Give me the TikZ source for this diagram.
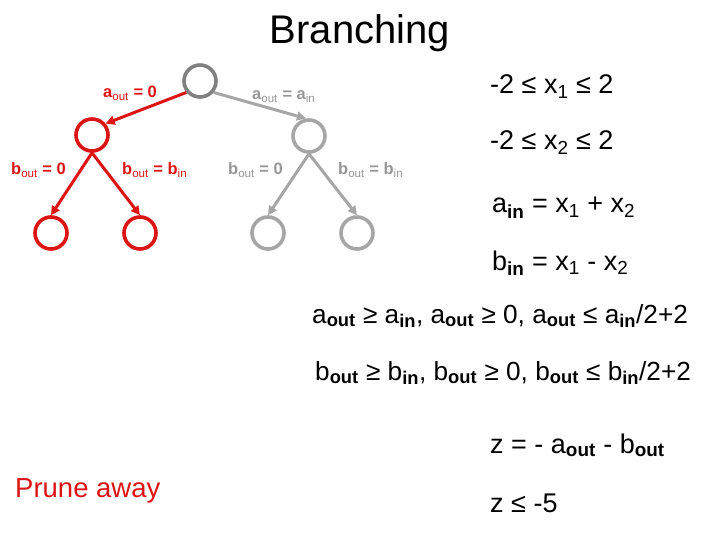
\documentclass[tikz,border=0pt]{standalone}
\usepackage{fontspec}
\setmainfont{Liberation Sans}
\usetikzlibrary{arrows.meta}
\definecolor{myred}{RGB}{220,20,20}
\definecolor{dgray}{RGB}{128,128,128}
\definecolor{lgray}{RGB}{166,166,166}
\definecolor{tgray}{RGB}{150,150,150}
\newcommand\sbb[1]{\textsubscript{\bfseries #1}}
\newcommand\sbr[1]{\textsubscript{\mdseries #1}}
\begin{document}
\begin{tikzpicture}[x=1pt,y=-1pt,
  nd/.style={circle,draw,line width=3.6pt,minimum size=32pt,inner sep=0pt},
  arr/.style={line width=3pt,-{Triangle[length=9pt,width=9pt]}},
  lbl/.style={anchor=base west,inner sep=0pt,font=\fontsize{16.5}{19}\selectfont\bfseries},
  eq/.style={anchor=base west,inner sep=0pt,font=\fontsize{27}{32}\selectfont},
  eqs/.style={anchor=base west,inner sep=0pt,font=\fontsize{26.2}{31}\selectfont}]
\useasboundingbox (0,0) rectangle (720,540);
\node[anchor=base,inner sep=0pt,font=\fontsize{40}{48}\selectfont] (title) at (360,44) {Branching};
% tree
\node[nd,draw=dgray] (root) at (200,81) {};
\node[nd,draw=myred] (lc) at (92,135) {};
\node[nd,draw=lgray] (rc) at (309,136) {};
\node[nd,draw=myred] (ll) at (51,233) {};
\node[nd,draw=myred] (lr) at (140,233) {};
\node[nd,draw=lgray] (rl) at (268,233) {};
\node[nd,draw=lgray] (rr) at (357,233) {};
\draw[arr,myred] (root.-140) -- (lc.40);
\draw[arr,lgray] (root.-40) -- (rc.100);
\draw[arr,myred] (lc.south) -- (ll.north);
\draw[arr,myred] (lc.south) -- (lr.north);
\draw[arr,lgray] (rc.south) -- (rl.north);
\draw[arr,lgray] (rc.south) -- (rr.north);
% tree labels
\node[lbl,myred] (l1) at (103,98) {a\sbr{out} = 0};
\node[lbl,tgray] (l2) at (252,100) {a\sbr{out} = a\sbr{in}};
\node[lbl,myred] (l3) at (11,175) {b\sbr{out} = 0};
\node[lbl,myred] (l4) at (122,175) {b\sbr{out} = b\sbr{in}};
\node[lbl,tgray] (l5) at (228,175) {b\sbr{out} = 0};
\node[lbl,tgray] (l6) at (338,175) {b\sbr{out} = b\sbr{in}};
% equations
\node[eq] (e1) at (490,94) {-2 ≤ x\textsubscript{1} ≤ 2};
\node[eq] (e2) at (490,150) {-2 ≤ x\textsubscript{2} ≤ 2};
\node[eq] (e3) at (492,213) {a\sbb{in} = x\textsubscript{1} + x\textsubscript{2}};
\node[eq] (e4) at (492,270) {b\sbb{in} = x\textsubscript{1} - x\textsubscript{2}};
\node[eqs] (e5) at (312,323) {a\sbb{out} ≥ a\sbb{in}, a\sbb{out} ≥ 0, a\sbb{out} ≤ a\sbb{in}/2+2};
\node[eqs] (e6) at (315,380) {b\sbb{out} ≥ b\sbb{in}, b\sbb{out} ≥ 0, b\sbb{out} ≤ b\sbb{in}/2+2};
\node[eq] (e7) at (490,453) {z = - a\sbb{out} - b\sbb{out}};
\node[eq] (e8) at (490,512) {z ≤ -5};
\node[anchor=base west,inner sep=0pt,font=\fontsize{27.5}{32}\selectfont,myred] (prune) at (15,497) {Prune away};
\end{tikzpicture}
\end{document}
